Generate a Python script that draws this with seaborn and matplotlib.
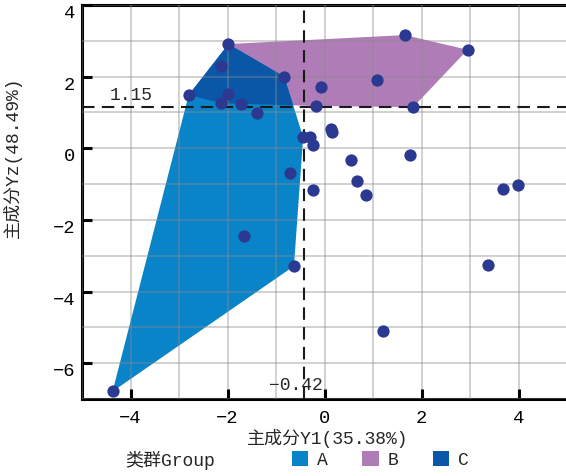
import numpy as np
import pandas as pd
import matplotlib
matplotlib.use("Agg")
import matplotlib.pyplot as plt
from matplotlib.patches import Polygon, Patch
from matplotlib.ticker import MultipleLocator
import seaborn as sns

# ---------------- data ----------------
pc1 = [-2.80, -1.98, -2.14, -1.98, -2.14, -1.72, -1.40, -0.83, -0.08, -0.17,
       -0.44, -0.30, -0.23, 0.13, 0.16, 0.55, 1.76, 0.67, 0.86, -0.23,
       3.69, 3.99, 3.38, 1.20, -0.63, -1.65, -0.71, -4.37, 1.66, 2.95,
       1.09, 1.83]
pc2 = [1.49, 2.91, 2.30, 1.52, 1.26, 1.24, 0.98, 2.00, 1.70, 1.18,
       0.31, 0.31, 0.09, 0.53, 0.45, -0.34, -0.19, -0.91, -1.30, -1.17,
       -1.15, -1.03, -3.26, -5.09, -3.29, -2.45, -0.70, -6.79, 3.16, 2.75,
       1.91, 1.15]
# membership of the points (indices) in the hull groups
group_A_idx = [0, 1, 2, 3, 4, 5, 6, 7, 10, 24, 25, 26, 27]
group_B_idx = [0, 1, 2, 3, 4, 5, 7, 8, 9, 28, 29, 30, 31]
group_labels = ["A", "B", "C"]
group_colors = ["#0A84C8", "#B07CB8", "#0A57A8"]
xlabel = "主成分Y1(35.38%)"
ylabel = "主成分Yz(48.49%)"
legend_title = "类群Group"
x_thr = -0.42
y_thr = 1.15

df = pd.DataFrame({"pc1": pc1, "pc2": pc2})


def convex_hull(points):
    pts = sorted(set(points))
    if len(pts) <= 2:
        return pts

    def cross(o, a, b):
        return (a[0] - o[0]) * (b[1] - o[1]) - (a[1] - o[1]) * (b[0] - o[0])

    lower = []
    for p in pts:
        while len(lower) >= 2 and cross(lower[-2], lower[-1], p) <= 0:
            lower.pop()
        lower.append(p)
    upper = []
    for p in reversed(pts):
        while len(upper) >= 2 and cross(upper[-2], upper[-1], p) <= 0:
            upper.pop()
        upper.append(p)
    return lower[:-1] + upper[:-1]


# ---------------- style ----------------
sns.set_theme(style="white")
plt.rcParams["font.family"] = ["Liberation Mono", "Noto Sans CJK SC"]
plt.rcParams["axes.unicode_minus"] = True
FS = 13

fig = plt.figure(figsize=(5.66, 4.76), dpi=100)
ax = fig.add_axes([82 / 566, 77 / 476, 485 / 566, 394 / 476])

hull_A = convex_hull([(pc1[i], pc2[i]) for i in group_A_idx])
hull_B = convex_hull([(pc1[i], pc2[i]) for i in group_B_idx])

patch_B = Polygon(hull_B, closed=True, facecolor=group_colors[1], edgecolor="none", zorder=1.0)
ax.add_patch(patch_B)
patch_A = Polygon(hull_A, closed=True, facecolor=group_colors[0], edgecolor="none", zorder=1.1)
ax.add_patch(patch_A)
patch_C = Polygon(hull_A, closed=True, facecolor=group_colors[2], edgecolor="none", zorder=1.2)
ax.add_patch(patch_C)
patch_C.set_clip_path(patch_B)

sns.scatterplot(data=df, x="pc1", y="pc2", ax=ax, color="#2B3990", s=78,
                linewidth=0, zorder=3, legend=False)

ax.axhline(y_thr, color="#1a1a1a", lw=1.5, dashes=(6, 3.5), zorder=2.8)
ax.axvline(x_thr, color="#1a1a1a", lw=1.5, dashes=(6, 3.5), zorder=2.8)
ax.text(-4.43, y_thr + 0.08, f"{y_thr:.2f}", fontsize=FS, ha="left", va="bottom", zorder=4)
ax.text(-0.04, -6.62, f"\u2212{abs(x_thr):.2f}", fontsize=FS, ha="right", va="center", zorder=4)

ax.set_xlim(-5, 5)
ax.set_ylim(-7, 4)
ax.xaxis.set_major_locator(MultipleLocator(2))
ax.yaxis.set_major_locator(MultipleLocator(2))
ax.xaxis.set_minor_locator(MultipleLocator(1))
ax.yaxis.set_minor_locator(MultipleLocator(1))

ax.set_axisbelow(False)
ax.grid(True, which="both", color="#8a8a8a", alpha=0.5, lw=1.1, zorder=2)

for side in ["left", "bottom", "top"]:
    ax.spines[side].set_visible(True)
    ax.spines[side].set_color("black")
    ax.spines[side].set_linewidth(2.2)
ax.spines["right"].set_visible(False)

ax.tick_params(axis="both", which="major", direction="in", length=7.5, width=2.2,
               color="black", labelsize=FS + 0.5, labelcolor="black")
ax.tick_params(axis="x", which="major", pad=8, top=False, bottom=True)
ax.tick_params(axis="y", which="major", pad=5, left=True, right=False)
ax.tick_params(axis="both", which="minor", length=0)
for lab in ax.get_yticklabels():
    lab.set_verticalalignment("top")

ax.set_xlabel(xlabel, fontsize=FS)
ax.set_ylabel(ylabel, fontsize=FS)
ax.xaxis.set_label_coords(0.507, -0.075)
ax.xaxis.label.set_verticalalignment("top")
ax.yaxis.set_label_coords(-0.124, 0.614)

fig.text(125 / 566, 16 / 476, legend_title, fontsize=FS, ha="left", va="center")
handles = [Patch(facecolor=c, edgecolor="none") for c in group_colors]
fig.legend(handles, group_labels, ncol=3, loc="center left",
           bbox_to_anchor=(292 / 566, 16 / 476), frameon=False, fontsize=FS,
           borderpad=0, borderaxespad=0, handlelength=0.9, handleheight=0.9,
           handletextpad=0.5, columnspacing=1.9)

fig.savefig("out.png", dpi=100)
